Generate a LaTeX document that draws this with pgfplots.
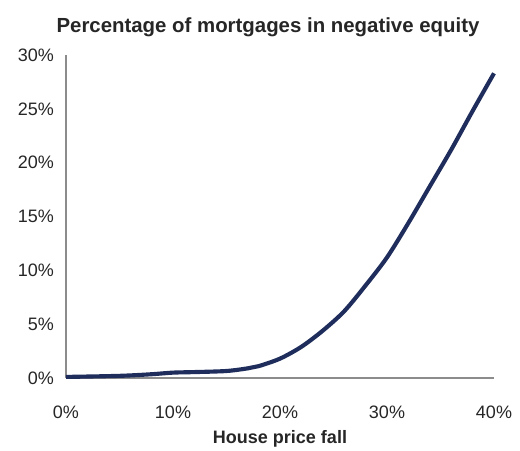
\documentclass[border=0pt]{standalone}
\usepackage{pgfplots}
\pgfplotsset{compat=1.18}
\usepackage{fontspec}
\setmainfont{Liberation Sans}
\definecolor{navy}{HTML}{1F2D5C}
\definecolor{axgray}{HTML}{8C8C8C}
\begin{document}
\begin{tikzpicture}[x=0.75pt,y=0.75pt]
\begin{axis}[
  at={(0,0)}, anchor=south west,
  scale only axis, width=321pt, height=242.25pt,
  xmin=0, xmax=40, ymin=0, ymax=30,
  axis x line=bottom, axis y line=left,
  axis line style={-, axgray, line width=1.5pt},
  xtick={0,10,20,30,40}, ytick={0,5,10,15,20,25,30},
  major tick length=0pt,
  /pgf/number format/assume math mode=true,
  xticklabel={\pgfmathprintnumber{\tick}\%},
  yticklabel={\pgfmathprintnumber{\tick}\%},
  tick label style={font=\fontsize{13.5}{16}\selectfont, text=black!85},
  xticklabel style={anchor=center, yshift=-25.5pt},
  yticklabel style={anchor=east, xshift=-5.5pt},
  xlabel={\bfseries House price fall},
  xlabel style={at={(axis description cs:0.5,0)}, anchor=center, yshift=-46pt, font=\fontsize{13.5}{16}\selectfont, text=black!85},
  clip=false,
]
\addplot[navy, line width=3.1pt, smooth] coordinates {
(0,0.1) (5,0.2) (8,0.35) (10,0.5) (12,0.55) (15,0.65) (17,0.9) (18,1.1)
(20,1.8) (22,2.9) (24,4.4) (26,6.2) (28,8.6) (30,11.2) (32,14.4)
(34,17.8) (36,21.2) (38,24.8) (40,28.3)
};
\end{axis}
\node[font=\bfseries\fontsize{15.3}{18}\selectfont, text=black!85] at (202,351) {Percentage of mortgages in negative equity};
\pgfresetboundingbox
\useasboundingbox (-66,-72) rectangle (454,378);
\end{tikzpicture}
\end{document}
